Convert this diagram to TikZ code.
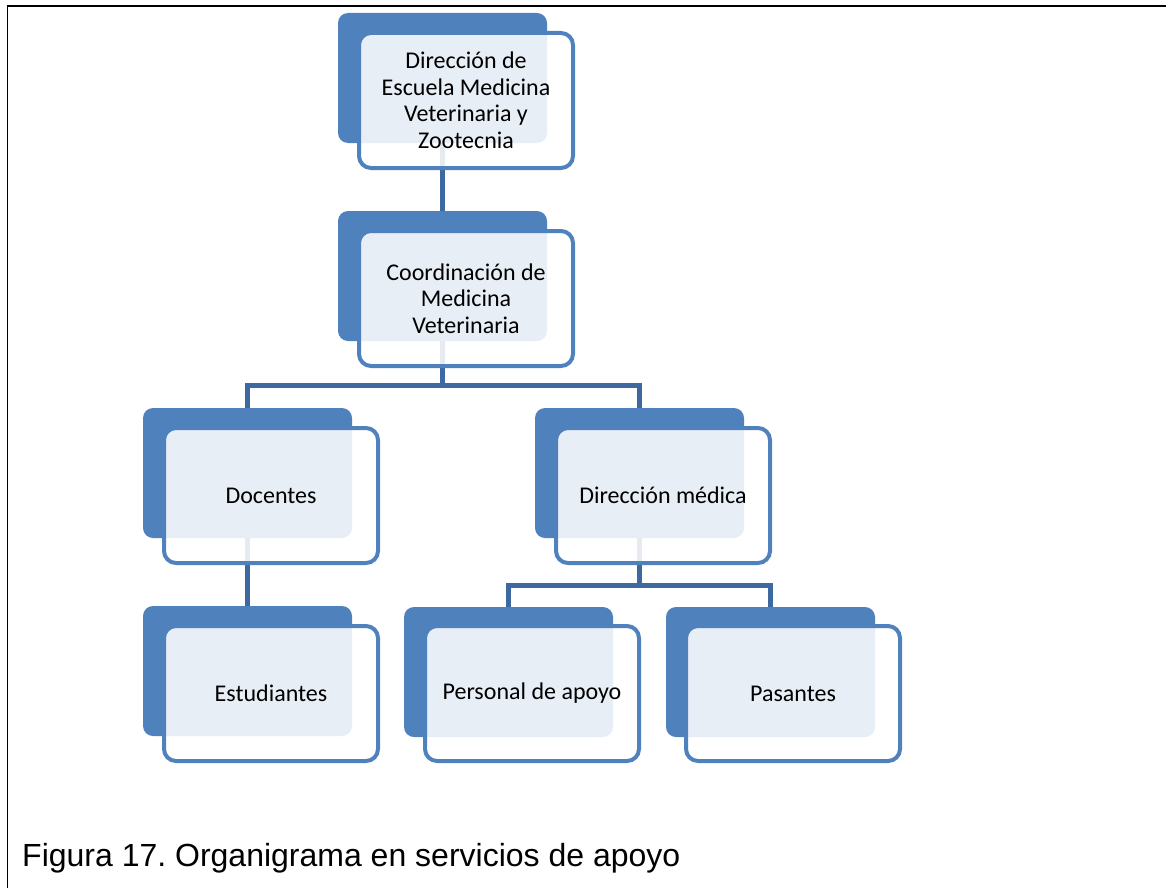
\documentclass[tikz,border=0pt]{standalone}
\usepackage{fontspec}
\setmainfont{Carlito}
\newfontfamily\captionfont{Liberation Sans}
\usetikzlibrary{backgrounds,calc}
\definecolor{unitblue}{RGB}{79,129,189}
\definecolor{linkblue}{RGB}{62,104,160}
\tikzset{
  backcard/.style={rectangle, rounded corners=10pt, fill=unitblue,
    minimum width=209pt, minimum height=130pt, inner sep=0pt, outer sep=0pt,
    anchor=north west},
  frontcard/.style={rectangle, rounded corners=12pt, draw=unitblue, line width=4pt,
    fill=white, fill opacity=0.87, text opacity=1, text=black,
    minimum width=214pt, minimum height=135pt, inner sep=0pt, outer sep=0pt,
    anchor=north west, align=center, font=\fontsize{24}{26.5}\selectfont},
  link/.style={draw=linkblue, line width=5pt},
  framerule/.style={draw=black, line width=1.3pt}
}
\begin{document}
\begin{tikzpicture}[x=1pt,y=-1pt]
\useasboundingbox (0,0) rectangle (1166,888);

% outer frame (top and left rules)
\draw[framerule] (1166,6) -- (7.5,6) -- (7.5,888);

% back cards of the units
\node[backcard] (b1) at (338,13) {};
\node[backcard] (b2) at (338,211) {};
\node[backcard] (b3) at (143,408) {};
\node[backcard] (b4) at (535,408) {};
\node[backcard] (b5) at (143,606) {};
\node[backcard] (b6) at (404,607) {};
\node[backcard] (b7) at (666,607) {};

% front cards carrying the unit names
\node[frontcard] (f1) at ([shift={(21,20)}]b1.north west) {Dirección de\\Escuela Medicina\\Veterinaria y\\Zootecnia};
\node[frontcard] (f2) at ([shift={(21,20)}]b2.north west) {Coordinación de\\Medicina\\Veterinaria};
\node[frontcard] (f3) at ([shift={(21,20)}]b3.north west) {Docentes};
\node[frontcard] (f4) at ([shift={(21,20)}]b4.north west) {Dirección médica};
\node[frontcard] (f5) at ([shift={(21,20)}]b5.north west) {Estudiantes};
\node[frontcard] (f6) at ([shift={(21,19)}]b6.north west) {Personal de apoyo};
\node[frontcard] (f7) at ([shift={(20,19)}]b7.north west) {Pasantes};

% connectors between units, behind the cards
\begin{pgfonlayer}{background}
  \coordinate (j2) at ($(b2.south)+(0,44)$);
  \coordinate (j4) at ($(b4.south)+(0,47)$);
  \draw[link] (b1.south) -- (b2.north);
  \draw[link] (b2.south) -- (j2) -| (b3.north);
  \draw[link] (j2) -| (b4.north);
  \draw[link] (b3.south) -- (b5.north);
  \draw[link] (b4.south) -- (j4) -| (b6.north);
  \draw[link] (j4) -| (b7.north);
\end{pgfonlayer}

% caption
\node[anchor=base west, inner sep=0pt, font=\captionfont\fontsize{32}{35}\selectfont] (cap) at (22,866) {Figura 17.\ Organigrama en servicios de apoyo};
\end{tikzpicture}
\end{document}
